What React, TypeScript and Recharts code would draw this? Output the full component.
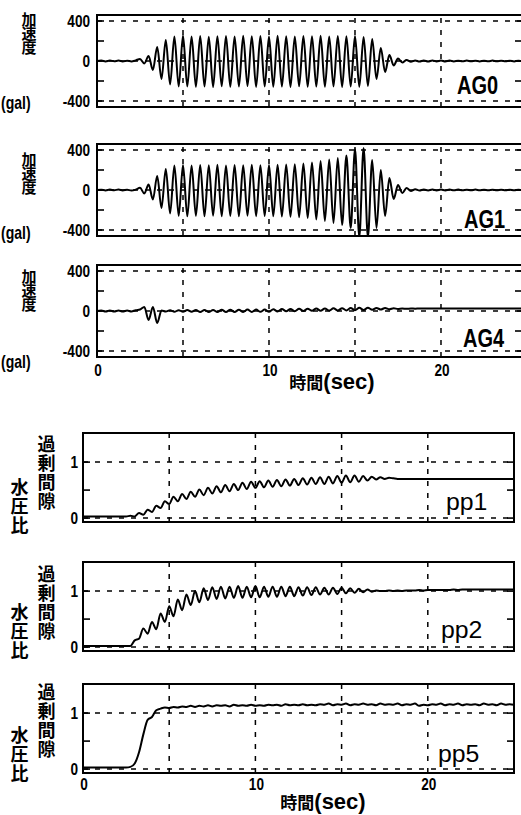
import React from 'react';
import { LineChart, Line, XAxis, YAxis, ReferenceLine, ReferenceArea } from 'recharts';

// sampling step of the records (s)
const DT = 0.25;

// acceleration records (gal), one value every DT seconds from t = 0
const AG0 = [
  0, 4, -4, 5, -3, 4, -5, 3, -4, 6,
  20, -25, 50, -90, 140, -180, 210, -235, 245, -255,
  255, -255, 245, -258, 250, -255, 242, -260, 248, -252,
  250, -258, 245, -255, 252, -250, 248, -260, 250, -255,
  245, -258, 252, -255, 248, -260, 245, -252, 250, -258,
  248, -255, 252, -258, 245, -255, 250, -260, 248, -255,
  250, -258, 240, -250, 220, -180, 130, -110, 60, -45,
  25, -15, 10, -8, 6, -6, 5, -5, 6, -4,
  5, -5, 4, -4, 3, -3, 4, -3, 3, -4,
  3, -3, 4, -3, 3, -3, 3, -4, 3, -3, 2,
];
const AG1 = [
  0, 3, -4, 4, -3, 5, -4, 3, -5, 4,
  22, -35, 55, -95, 140, -180, 210, -235, 245, -258,
  250, -262, 245, -258, 250, -262, 248, -258, 252, -262,
  245, -260, 250, -262, 248, -258, 252, -262, 248, -260,
  250, -262, 252, -265, 255, -268, 258, -272, 265, -280,
  275, -295, 290, -310, 305, -330, 320, -350, 345, -380,
  410, -470, 420, -470, 300, -380, 200, -260, 120, -90,
  50, -30, 20, -10, 8, -5, 5, -4, 5, -4,
  4, -4, 4, -3, 4, -3, 3, -3, 4, -3,
  3, -3, 3, -3, 3, -3, 3, -3, 3, -3, 2,
];
const AG4 = [
  0, 5, -5, 6, -5, 5, -6, 5, -5, 8,
  15, 40, -90, 40, -120, 5, -5, 8, -8, 8,
  -8, 10, -8, 10, -10, 10, -10, 10, -10, 12,
  -10, 12, -10, 12, -10, 14, -10, 14, -8, 14,
  -8, 18, -5, 20, -3, 20, -2, 22, 0, 22,
  2, 25, 2, 25, 4, 28, 5, 28, 6, 30,
  8, 32, 10, 32, 12, 30, 15, 30, 18, 28,
  20, 24, 22, 25, 23, 25, 24, 25, 25, 25,
  25, 25, 25, 25, 25, 25, 25, 25, 25, 25,
  25, 25, 25, 25, 25, 25, 25, 25, 25, 25, 25,
];

// excess pore water pressure ratio records, one value every DT seconds
const PP1 = [
  0.03, 0.03, 0.03, 0.03, 0.03, 0.03, 0.03, 0.03, 0.03, 0.03,
  0.03, 0.04, 0.03, 0.09, 0.06, 0.15, 0.11, 0.22, 0.18, 0.3,
  0.25, 0.38, 0.3, 0.43, 0.34, 0.47, 0.38, 0.51, 0.41, 0.54,
  0.44, 0.57, 0.46, 0.59, 0.48, 0.61, 0.5, 0.63, 0.52, 0.65,
  0.54, 0.66, 0.55, 0.67, 0.56, 0.68, 0.57, 0.69, 0.58, 0.7,
  0.59, 0.71, 0.6, 0.72, 0.61, 0.73, 0.61, 0.74, 0.62, 0.75,
  0.63, 0.76, 0.64, 0.76, 0.65, 0.75, 0.67, 0.74, 0.69, 0.73,
  0.7, 0.72, 0.71, 0.7, 0.7, 0.7, 0.7, 0.7, 0.7, 0.7,
  0.7, 0.7, 0.7, 0.7, 0.7, 0.7, 0.7, 0.7, 0.7, 0.7,
  0.7, 0.7, 0.7, 0.7, 0.7, 0.7, 0.7, 0.7, 0.7, 0.7, 0.7,
];
const PP2 = [
  0.02, 0.02, 0.02, 0.02, 0.02, 0.02, 0.02, 0.02, 0.02, 0.02,
  0.02, 0.02, 0.12, 0.15, 0.33, 0.24, 0.45, 0.32, 0.6, 0.45,
  0.73, 0.55, 0.85, 0.66, 0.94, 0.75, 1.0, 0.8, 1.05, 0.84,
  1.07, 0.86, 1.08, 0.87, 1.08, 0.88, 1.09, 0.88, 1.08, 0.89,
  1.09, 0.89, 1.08, 0.9, 1.08, 0.9, 1.08, 0.91, 1.08, 0.91,
  1.07, 0.92, 1.07, 0.93, 1.07, 0.94, 1.06, 0.94, 1.06, 0.95,
  1.06, 0.96, 1.05, 0.97, 1.04, 0.98, 1.03, 0.99, 1.01, 1.0,
  1.0, 1.01, 1.0, 1.01, 1.0, 1.01, 1.01, 1.01, 1.02, 1.01,
  1.02, 1.02, 1.02, 1.02, 1.02, 1.02, 1.03, 1.02, 1.03, 1.03,
  1.03, 1.03, 1.03, 1.03, 1.03, 1.03, 1.03, 1.03, 1.03, 1.03, 1.03,
];
const PP5 = [
  0.03, 0.03, 0.03, 0.03, 0.03, 0.03, 0.03, 0.03, 0.03, 0.03,
  0.03, 0.04, 0.1, 0.3, 0.62, 0.88, 0.93, 1.05, 1.08, 1.1,
  1.09, 1.11, 1.1, 1.12, 1.11, 1.13, 1.11, 1.13, 1.12, 1.14,
  1.12, 1.14, 1.13, 1.14, 1.12, 1.15, 1.13, 1.14, 1.13, 1.15,
  1.13, 1.14, 1.13, 1.15, 1.14, 1.15, 1.13, 1.16, 1.14, 1.15,
  1.14, 1.16, 1.14, 1.15, 1.14, 1.16, 1.15, 1.17, 1.14, 1.16,
  1.15, 1.17, 1.14, 1.16, 1.15, 1.17, 1.15, 1.16, 1.14, 1.17,
  1.15, 1.16, 1.15, 1.17, 1.14, 1.16, 1.15, 1.17, 1.13, 1.15,
  1.14, 1.16, 1.15, 1.17, 1.14, 1.16, 1.15, 1.17, 1.14, 1.16,
  1.15, 1.16, 1.14, 1.17, 1.15, 1.16, 1.14, 1.17, 1.15, 1.16, 1.15,
];

// axes
const AG_TICKS = [-400, -200, 0, 200, 400];
const AG_LABELS = [-400, 0, 400];
const AG_GRID_Y = [-400, 0, 400];
const AG_DOMAIN: [number, number] = [-460, 460];
const PP_TICKS = [0, 0.5, 1];
const PP_LABELS = [0, 1];
const PP_GRID_Y = [0, 1];
const PP_DOMAIN: [number, number] = [-0.07, 1.52];
const X_GRID = [5, 10, 15, 20];
const X_LABELS = [0, 10, 20];

const AG_NAMES = ['AG0', 'AG1', 'AG4'];
const PP_NAMES = ['pp1', 'pp2', 'pp5'];
const ACC_LABEL = '加速度';
const ACC_UNIT = '(gal)';
const PP_LABEL_A = '過剰間隙';
const PP_LABEL_B = '水圧比';
const TIME_LABEL_A = '時間';
const TIME_LABEL_B = '(sec)';

const NUM_FONT = "'Liberation Sans', Arial, sans-serif";
const CJK_FONT = "'Noto Sans CJK JP', 'Noto Sans CJK SC', sans-serif";

const toRows = (vals: number[]) => vals.map((v, i) => ({ t: i * DT, v }));

const YW = 44;
const MT = 10;
const MR = 4;
const MB = 12;
const XH = 24;
const NUM_FS = 17;
const NUM_SX = 0.8;

type PanelProps = {
  values: number[];
  plotLeft: number;
  plotTop: number;
  plotW: number;
  plotH: number;
  xMax: number;
  yDomain: [number, number];
  yTicks: number[];
  yLabels: number[];
  yGrid: number[];
  showX: boolean;
  labelGap: number;
  xLabelOffset: number;
};

function Panel(p: PanelProps) {
  const width = YW + p.plotW + MR;
  const height = MT + p.plotH + (p.showX ? XH : MB);
  const data = toRows(p.values);
  const fs = NUM_FS;
  const yTick = (props: any) => {
    const { y, payload } = props;
    const v = payload.value;
    const isLabel = p.yLabels.indexOf(v) >= 0;
    return (
      <g>
        <line x1={YW} x2={YW + 7} y1={y} y2={y} stroke="#000" strokeWidth={1.6} />
        <line x1={YW + p.plotW - 7} x2={YW + p.plotW} y1={y} y2={y} stroke="#000" strokeWidth={1.6} />
        {isLabel && (
          <text
            transform={`translate(${YW - p.labelGap},${y + 0.36 * fs}) scale(${NUM_SX},1)`}
            textAnchor="end"
            fontFamily={NUM_FONT}
            fontWeight="bold"
            fontSize={fs}
            fill="#000"
          >
            {String(v)}
          </text>
        )}
      </g>
    );
  };
  const xTick = (props: any) => {
    const { x, payload } = props;
    const yb = MT + p.plotH + p.xLabelOffset;
    return (
      <text
        transform={`translate(${x + 1},${yb + 0.36 * fs}) scale(${NUM_SX},1)`}
        textAnchor="middle"
        fontFamily={NUM_FONT}
        fontWeight="bold"
        fontSize={fs}
        fill="#000"
      >
        {String(payload.value)}
      </text>
    );
  };
  return (
    <div style={{ position: 'absolute', left: p.plotLeft - YW, top: p.plotTop - MT }}>
      <LineChart
        width={width}
        height={height}
        data={data}
        margin={{ top: MT, right: MR, bottom: p.showX ? 0 : MB, left: 0 }}
      >
        <XAxis
          dataKey="t"
          type="number"
          domain={[0, p.xMax]}
          allowDataOverflow
          ticks={X_LABELS}
          interval={0}
          hide={!p.showX}
          height={XH}
          axisLine={false}
          tickLine={false}
          tickSize={0}
          tickMargin={0}
          tick={xTick}
        />
        <YAxis
          type="number"
          domain={p.yDomain}
          allowDataOverflow
          ticks={p.yTicks}
          interval={0}
          width={YW}
          axisLine={false}
          tickLine={false}
          tickSize={0}
          tickMargin={0}
          tick={yTick}
        />
        {X_GRID.map((x) => (
          <ReferenceLine key={'gx' + x} x={x} stroke="#000" strokeWidth={1.5} strokeDasharray="5 7" />
        ))}
        {p.yGrid.map((y) => (
          <ReferenceLine key={'gy' + y} y={y} stroke="#000" strokeWidth={1.5} strokeDasharray="5 7" />
        ))}
        <Line
          dataKey="v"
          type="monotone"
          stroke="#000"
          strokeWidth={2}
          dot={false}
          isAnimationActive={false}
        />
        <ReferenceArea
          x1={0}
          x2={p.xMax}
          y1={p.yDomain[0]}
          y2={p.yDomain[1]}
          fill="none"
          fillOpacity={0}
          stroke="#000"
          strokeWidth={2}
        />
      </LineChart>
    </div>
  );
}

const AG_X_MAX = 24.71;
const PP_X_MAX = 25;

function VLabel({ text, cx, top, fs, pitch }: { text: string; cx: number; top: number; fs: number; pitch: number }) {
  return (
    <div
      style={{
        position: 'absolute',
        left: cx - fs / 2,
        top: top - 0.06 * fs,
        writingMode: 'vertical-rl',
        fontFamily: CJK_FONT,
        fontWeight: 700,
        fontSize: fs,
        lineHeight: `${fs}px`,
        letterSpacing: pitch - fs,
        whiteSpace: 'nowrap',
        color: '#000',
      }}
    >
      {text}
    </div>
  );
}

export default function App() {
  const agTops = [15, 144, 265];
  const ppTops = [433, 562, 684];
  const agSeries = [AG0, AG1, AG4];
  const ppSeries = [PP1, PP2, PP5];
  const accLabelTops = [12.5, 152.5, 269.5];
  const unitBaselines = [109, 239, 368];
  const agNamePos = [
    { x: 457, y: 94 },
    { x: 464, y: 228 },
    { x: 463, y: 347 },
  ];
  const ppNamePos = [
    { x: 446, y: 510 },
    { x: 441, y: 638 },
    { x: 438, y: 762 },
  ];
  const ppLabelATops = [436, 566, 684];
  const ppLabelBTops = [479, 604, 727];
  return (
    <div
      style={{
        position: 'fixed',
        left: 0,
        top: 0,
        width: 521,
        height: 815,
        overflow: 'hidden',
        background: '#fff',
      }}
    >
      {agSeries.map((vals, i) => (
        <Panel
          key={'ag' + i}
          values={vals}
          plotLeft={97}
          plotTop={agTops[i]}
          plotW={425}
          plotH={92}
          xMax={AG_X_MAX}
          yDomain={AG_DOMAIN}
          yTicks={AG_TICKS}
          yLabels={AG_LABELS}
          yGrid={AG_GRID_Y}
          showX={i === 2}
          labelGap={7}
          xLabelOffset={12.5}
        />
      ))}
      {ppSeries.map((vals, i) => (
        <Panel
          key={'pp' + i}
          values={vals}
          plotLeft={83}
          plotTop={ppTops[i]}
          plotW={431}
          plotH={89}
          xMax={PP_X_MAX}
          yDomain={PP_DOMAIN}
          yTicks={PP_TICKS}
          yLabels={PP_LABELS}
          yGrid={PP_GRID_Y}
          showX={i === 2}
          labelGap={5}
          xLabelOffset={10.5}
        />
      ))}
      {accLabelTops.map((t, i) => (
        <VLabel key={'acc' + i} text={ACC_LABEL} cx={29} top={t} fs={15} pitch={14} />
      ))}
      {ppLabelATops.map((t, i) => (
        <VLabel key={'ppa' + i} text={PP_LABEL_A} cx={46.5} top={t} fs={18} pitch={19} />
      ))}
      {ppLabelBTops.map((t, i) => (
        <VLabel key={'ppb' + i} text={PP_LABEL_B} cx={19.5} top={t} fs={18} pitch={19} />
      ))}
      <svg
        width={521}
        height={815}
        style={{ position: 'absolute', left: 0, top: 0, pointerEvents: 'none' }}
      >
        {unitBaselines.map((b, i) => (
          <text
            key={'unit' + i}
            transform={`translate(1,${b}) scale(0.78,1)`}
            fontFamily={NUM_FONT}
            fontWeight="bold"
            fontSize={18}
            fill="#000"
          >
            {ACC_UNIT}
          </text>
        ))}
        {agNamePos.map((pos, i) => (
          <text
            key={'agn' + i}
            transform={`translate(${pos.x},${pos.y}) scale(0.8,1)`}
            fontFamily={NUM_FONT}
            fontWeight="bold"
            fontSize={25}
            fill="#000"
          >
            {AG_NAMES[i]}
          </text>
        ))}
        {ppNamePos.map((pos, i) => (
          <text
            key={'ppn' + i}
            transform={`translate(${pos.x},${pos.y}) scale(1.08,1)`}
            fontFamily={NUM_FONT}
            fontSize={23}
            fill="#000"
          >
            {PP_NAMES[i]}
          </text>
        ))}
        {[
          { x: 332, y: 389 },
          { x: 323, y: 809 },
        ].map((pos, i) => (
          <text
            key={'tl' + i}
            x={pos.x}
            y={pos.y}
            textAnchor="middle"
            fontWeight="bold"
            fill="#000"
          >
            <tspan fontFamily={CJK_FONT} fontSize={17}>{TIME_LABEL_A}</tspan>
            <tspan fontFamily={NUM_FONT} fontSize={22}>{TIME_LABEL_B}</tspan>
          </text>
        ))}
      </svg>
    </div>
  );
}
